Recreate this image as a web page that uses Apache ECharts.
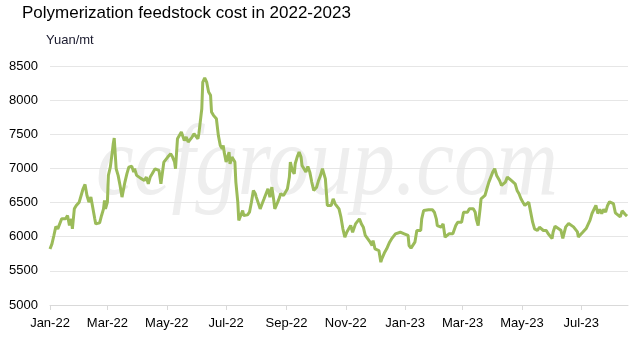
<!DOCTYPE html>
<html>
<head>
<meta charset="utf-8">
<script src="https://cdn.jsdelivr.net/npm/echarts@6/dist/echarts.min.js"></script>
<style>
  html, body { margin: 0; padding: 0; background: #ffffff; }
  #chart { width: 643px; height: 341px; }
</style>
</head>
<body>
<div id="chart"></div>
<script>
// Daily feedstock cost, Yuan/mt
const dates = [
  '2022-01-01','2022-01-03','2022-01-05','2022-01-07','2022-01-09','2022-01-11','2022-01-13','2022-01-15','2022-01-17','2022-01-19',
  '2022-01-21','2022-01-23','2022-01-24','2022-01-26','2022-01-28','2022-01-31','2022-02-02','2022-02-04','2022-02-06','2022-02-08',
  '2022-02-10','2022-02-12','2022-02-14','2022-02-16','2022-02-17','2022-02-19','2022-02-21','2022-02-23','2022-02-25','2022-02-26',
  '2022-02-27','2022-03-01','2022-03-02','2022-03-04','2022-03-06','2022-03-07','2022-03-08','2022-03-10','2022-03-12','2022-03-14',
  '2022-03-16','2022-03-17','2022-03-19','2022-03-21','2022-03-23','2022-03-26','2022-03-28','2022-03-29','2022-03-31','2022-04-02',
  '2022-04-04','2022-04-06','2022-04-08','2022-04-10','2022-04-12','2022-04-14','2022-04-16','2022-04-19','2022-04-21','2022-04-23',
  '2022-04-25','2022-04-26','2022-04-28','2022-04-30','2022-05-02','2022-05-05','2022-05-07','2022-05-09','2022-05-10','2022-05-12',
  '2022-05-14','2022-05-16','2022-05-18','2022-05-19','2022-05-21','2022-05-23','2022-05-25','2022-05-27','2022-05-29','2022-05-31',
  '2022-06-02','2022-06-03','2022-06-04','2022-06-06','2022-06-07','2022-06-09','2022-06-11','2022-06-13','2022-06-15','2022-06-16',
  '2022-06-18','2022-06-21','2022-06-23','2022-06-25','2022-06-27','2022-06-28','2022-06-29','2022-07-01','2022-07-02','2022-07-04',
  '2022-07-05','2022-07-07','2022-07-09','2022-07-10','2022-07-11','2022-07-13','2022-07-14','2022-07-16','2022-07-18','2022-07-19',
  '2022-07-21','2022-07-23','2022-07-25','2022-07-27','2022-07-29','2022-07-31','2022-08-01','2022-08-03','2022-08-05','2022-08-07',
  '2022-08-09','2022-08-11','2022-08-13','2022-08-15','2022-08-17','2022-08-19','2022-08-20','2022-08-23','2022-08-25','2022-08-26',
  '2022-08-29','2022-08-31','2022-09-02','2022-09-04','2022-09-05','2022-09-07','2022-09-09','2022-09-10','2022-09-12','2022-09-14',
  '2022-09-16','2022-09-17','2022-09-19','2022-09-21','2022-09-23','2022-09-25','2022-09-27','2022-09-29','2022-10-02','2022-10-04',
  '2022-10-06','2022-10-08','2022-10-10','2022-10-11','2022-10-13','2022-10-15','2022-10-17','2022-10-19','2022-10-21','2022-10-23',
  '2022-10-25','2022-10-27','2022-10-29','2022-10-31','2022-11-02','2022-11-04','2022-11-06','2022-11-08','2022-11-10','2022-11-11',
  '2022-11-13','2022-11-15','2022-11-17','2022-11-19','2022-11-21','2022-11-23','2022-11-26','2022-11-28','2022-11-29','2022-12-01',
  '2022-12-03','2022-12-05','2022-12-07','2022-12-08','2022-12-11','2022-12-13','2022-12-14','2022-12-16','2022-12-18','2022-12-20',
  '2022-12-22','2022-12-24','2022-12-27','2022-12-29','2022-12-31','2023-01-02','2023-01-04','2023-01-05','2023-01-07','2023-01-09',
  '2023-01-11','2023-01-13','2023-01-15','2023-01-17','2023-01-18','2023-01-20','2023-01-22','2023-01-25','2023-01-29','2023-01-31',
  '2023-02-02','2023-02-03','2023-02-05','2023-02-07','2023-02-09','2023-02-11','2023-02-13','2023-02-15','2023-02-17','2023-02-19',
  '2023-02-21','2023-02-22','2023-02-24','2023-02-26','2023-02-28','2023-03-02','2023-03-04','2023-03-06','2023-03-08','2023-03-10',
  '2023-03-12','2023-03-14','2023-03-15','2023-03-17','2023-03-19','2023-03-20','2023-03-22','2023-03-24','2023-03-26','2023-03-28',
  '2023-03-30','2023-04-01','2023-04-03','2023-04-05','2023-04-08','2023-04-10','2023-04-12','2023-04-14','2023-04-16','2023-04-18',
  '2023-04-20','2023-04-22','2023-04-24','2023-04-26','2023-04-28','2023-04-30','2023-05-02','2023-05-04','2023-05-06','2023-05-08',
  '2023-05-10','2023-05-12','2023-05-14','2023-05-17','2023-05-19','2023-05-21','2023-05-23','2023-05-24','2023-05-26','2023-05-28',
  '2023-05-30','2023-06-01','2023-06-02','2023-06-04','2023-06-06','2023-06-10','2023-06-12','2023-06-15','2023-06-18','2023-06-20',
  '2023-06-23','2023-06-27','2023-06-28','2023-07-02','2023-07-06','2023-07-08','2023-07-10','2023-07-12','2023-07-16','2023-07-18',
  '2023-07-20','2023-07-22','2023-07-24','2023-07-26','2023-07-28','2023-07-30','2023-08-01','2023-08-03','2023-08-05','2023-08-07',
  '2023-08-10','2023-08-12','2023-08-15','2023-08-17'
];

const costs = [
  5820,5895,6018,6150,6115,6091,6262,6272,6262,6311,
  6165,6262,6115,6408,6458,6506,6604,6702,6766,6604,
  6506,6580,6555,6262,6188,6188,6203,6311,6408,6531,
  6408,6506,6898,7019,7239,7361,7444,6995,6898,6751,
  6580,6555,6800,6921,7019,7034,6946,6995,6898,6921,
  6858,6873,6824,6873,6775,6873,6921,6995,7019,6971,
  6775,6751,7093,7117,7166,7215,7166,7093,6995,7434,
  7459,7532,7508,7410,7459,7386,7410,7459,7508,7532,
  7434,7508,7631,7874,8265,8324,8265,8119,8070,7826,
  7777,7727,7484,7337,7288,7337,7239,7093,7117,7239,
  7068,7166,7142,7093,6800,6506,6238,6311,6384,6311,
  6335,6320,6359,6506,6678,6629,6580,6604,6408,6482,
  6555,6629,6702,6580,6726,6531,6408,6506,6580,6629,
  6604,6629,6702,6873,7093,6971,6921,7068,7166,7239,
  7166,7044,6995,6946,7030,6946,6800,6678,6726,6824,
  6898,6995,7019,6848,6458,6482,6458,6555,6482,6458,
  6408,6286,6115,5993,6066,6115,6164,6066,6042,6188,
  6213,6262,6188,6140,6018,5993,5920,5871,5944,5822,
  5822,5798,5627,5676,5773,5822,5847,5920,5968,5944,
  6042,6018,6066,6056,6042,6066,6018,5871,5832,5847,
  5920,6091,6115,6091,6262,6384,6394,6394,6394,6359,
  6262,6164,6188,6140,6188,5993,6018,6042,6027,6042,
  6018,6164,6213,6188,6213,6359,6384,6359,6408,6433,
  6408,6359,6262,6164,6408,6555,6531,6604,6702,6800,
  6873,6946,6995,6898,6824,6751,6726,6800,6873,6873,
  6824,6800,6775,6678,6629,6555,6506,6458,6482,6506,
  6359,6213,6115,6091,6140,6115,6091,6066,6091,6042,
  6018,5975,6066,6154,6154,6096,5974,6144,6193,6170,
  6144,6071,5998,6057,6120,6135,6242,6340,6458,6340,
  6399,6340,6399,6359,6458,6511,6536,6486,6350,6325,
  6290,6379,6330,6301
];

// Axis ticks: every second month
const tickDates = ['2022-01-01','2022-03-01','2022-05-01','2022-07-01','2022-09-01','2022-11-01',
                   '2023-01-01','2023-03-01','2023-05-01','2023-07-01'];
const tickLabels = ['Jan-22','Mar-22','May-22','Jul-22','Sep-22','Nov-22',
                    'Jan-23','Mar-23','May-23','Jul-23'];
const axisStart = '2022-01-01';
const axisEnd = '2023-08-18';

const yTicks = [5000, 5500, 6000, 6500, 7000, 7500, 8000, 8500];

// Dates are placed on a linear axis as UTC milliseconds
const toTime = s => Date.parse(s + 'T00:00:00Z');
const tickTimes = tickDates.map(toTime);

const chart = echarts.init(document.getElementById('chart'), null, { renderer: 'canvas' });

chart.setOption({
  animation: false,
  backgroundColor: '#ffffff',
  title: [
    {
      text: 'Polymerization feedstock cost in 2022-2023',
      left: 17, top: 0,
      textStyle: { fontFamily: 'Liberation Sans', fontSize: 17, fontWeight: 'normal', color: '#000000' }
    },
    {
      text: 'Yuan/mt',
      left: 41, top: 29,
      textStyle: { fontFamily: 'Liberation Sans', fontSize: 13, fontWeight: 'normal', color: '#1a1a2e' }
    }
  ],
  graphic: [
    {
      type: 'text',
      silent: true,
      z: -10,
      x: 327, y: 168,
      scaleX: 0.85,
      style: {
        text: 'ccfgroup.com',
        font: 'italic 100px "Liberation Serif"',
        fill: '#eeeeee',
        align: 'center',
        verticalAlign: 'middle'
      }
    }
  ],
  grid: { left: 50, right: 15, top: 66, bottom: 36 },
  xAxis: {
    type: 'value',
    min: toTime(axisStart),
    max: toTime(axisEnd),
    axisLine: { show: true, onZero: false, lineStyle: { color: '#d9d9d9', width: 1 } },
    axisTick: { show: true, length: 5, lineStyle: { color: '#d9d9d9' }, customValues: tickTimes },
    axisLabel: {
      customValues: tickTimes,
      margin: 12,
      fontFamily: 'Liberation Sans',
      fontSize: 13,
      color: '#000000',
      formatter: function (val) {
        const i = tickTimes.indexOf(val);
        return i >= 0 ? tickLabels[i] : '';
      }
    },
    splitLine: { show: false }
  },
  yAxis: {
    type: 'value',
    min: yTicks[0],
    max: yTicks[yTicks.length - 1],
    interval: 500,
    axisLine: { show: false },
    axisTick: { show: false },
    axisLabel: {
      margin: 12, fontFamily: 'Liberation Sans', fontSize: 13, color: '#000000',
      formatter: v => String(v)
    },
    splitLine: { lineStyle: { color: '#e6e6e6', width: 1 } }
  },
  series: [
    {
      type: 'line',
      data: dates.map((d, i) => [toTime(d), costs[i]]),
      showSymbol: false,
      symbol: 'none',
      lineStyle: { color: '#9bbb59', width: 3 },
      itemStyle: { color: '#9bbb59' },
      z: 5
    }
  ]
});
</script>
</body>
</html>
